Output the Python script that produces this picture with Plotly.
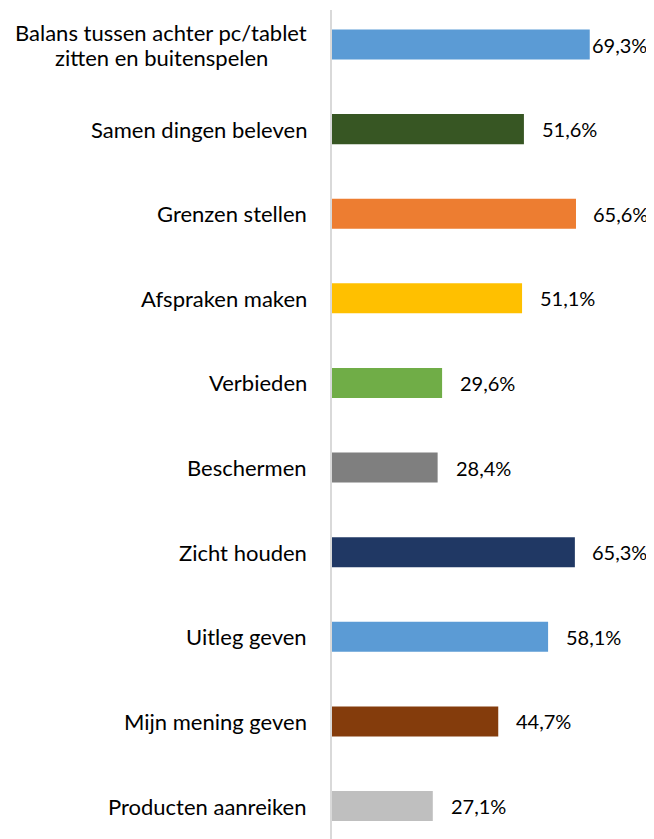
import plotly.graph_objects as go

categories = [
    "Balans tussen achter pc/tablet<br>zitten en buitenspelen",
    "Samen dingen beleven",
    "Grenzen stellen",
    "Afspraken maken",
    "Verbieden",
    "Beschermen",
    "Zicht houden",
    "Uitleg geven",
    "Mijn mening geven",
    "Producten aanreiken",
]
values = [69.3, 51.6, 65.6, 51.1, 29.6, 28.4, 65.3, 58.1, 44.7, 27.1]
colors = ["#5B9BD5", "#375623", "#ED7D31", "#FFC000", "#70AD47",
          "#7F7F7F", "#203864", "#5B9BD5", "#843C0C", "#BFBFBF"]
value_labels = [f"{v:.1f}%".replace(".", ",") for v in values]
label_shift = [0, 16, 15, 16, 16, 16, 15, 16, 16, 16]

FONT = "Lato"
idx = list(range(len(categories)))

fig = go.Figure()
fig.add_trace(go.Bar(
    x=values, y=idx, orientation="h",
    marker=dict(color=colors, line=dict(width=0)),
    width=0.355, hoverinfo="skip",
))

annotations = []
for i, (c, v, t, s) in enumerate(zip(categories, values, value_labels, label_shift)):
    annotations.append(dict(
        x=v, y=i, xref="x", yref="y", text=t, showarrow=False,
        xanchor="left", yanchor="middle", xshift=s,
        font=dict(family=FONT, size=20, color="#000000"),
    ))
    lines = c.split("<br>")
    n = len(lines)
    for k, line in enumerate(lines):
        annotations.append(dict(
            x=0, y=i, xref="paper", yref="y", text=line, showarrow=False,
            xanchor="right" if n == 1 else "center", yanchor="middle",
            xshift=-23 if n == 1 else -171,
            yshift=(n - 1) * 12.5 - k * 25,
            font=dict(family=FONT, size=22, color="#000000"),
        ))

# the page body has an 8px margin: offset sizes so the plot lands in place
fig.update_layout(
    width=646, height=831,
    margin=dict(l=324, r=4, t=2, b=0),
    paper_bgcolor="white", plot_bgcolor="white",
    showlegend=False,
    annotations=annotations,
    xaxis=dict(range=[0, 85.5], visible=False, fixedrange=True),
    yaxis=dict(range=[9.39, -0.408], showticklabels=False, showgrid=False,
               zeroline=False, showline=True, linecolor="#D9D9D9", linewidth=2,
               ticks=""),
)
fig.write_html("out.html")
